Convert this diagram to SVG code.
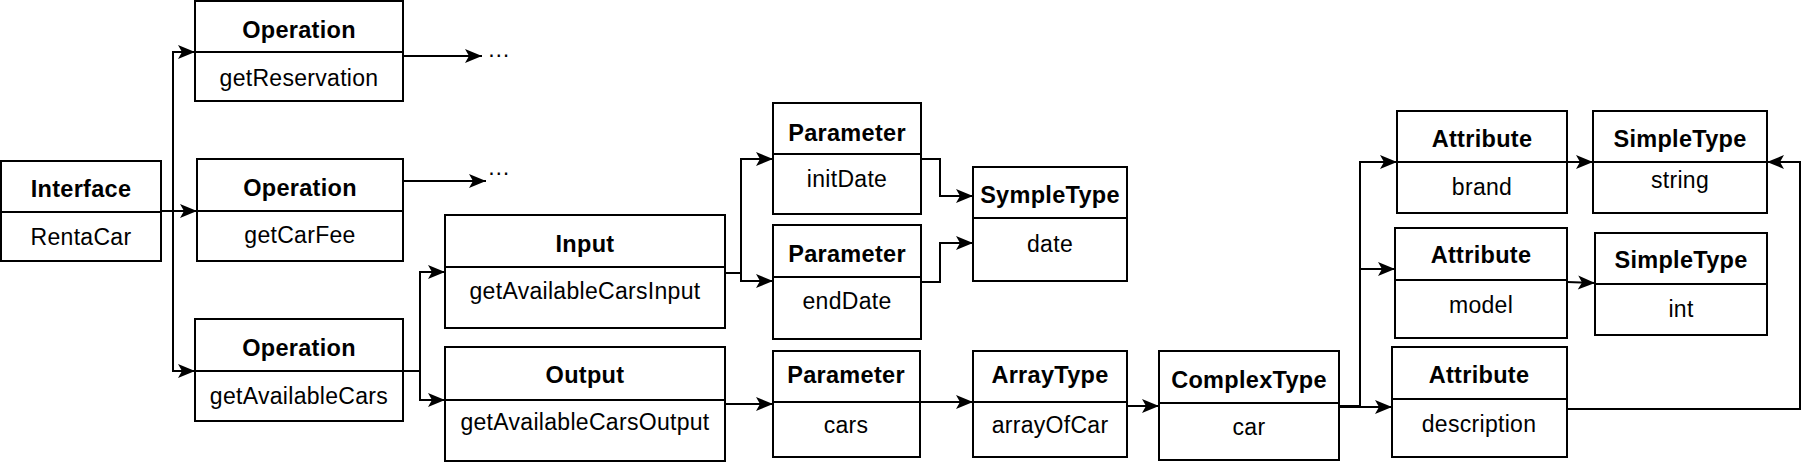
<svg xmlns="http://www.w3.org/2000/svg" width="1818" height="464" viewBox="0 0 1818 464">
<style>
.box{fill:#fff;stroke:#000;stroke-width:2}
.div{stroke:#000;stroke-width:2}
.h{font-family:"Liberation Sans",Arial,sans-serif;font-weight:bold;font-size:23.5px;letter-spacing:0.3px;text-anchor:middle;fill:#000}
.b{font-family:"Liberation Sans",Arial,sans-serif;font-size:23px;letter-spacing:0.3px;text-anchor:middle;fill:#000}
.c{fill:none;stroke:#000;stroke-width:2}
</style>
<defs>
<marker id="ah" markerUnits="userSpaceOnUse" markerWidth="20" markerHeight="16" viewBox="-18 -8 19 16" refX="0" refY="0" orient="auto">
<path d="M0,0 L-17,-7 L-13,0 L-17,7 Z" fill="#000"/>
</marker>
</defs>
<rect width="1818" height="464" fill="#fff"/>
<g id="connectors">
<path class="c" d="M161,211 H173 V52 H195" marker-end="url(#ah)"/>
<path class="c" d="M161,211 H197" marker-end="url(#ah)"/>
<path class="c" d="M161,211 H173 V371 H195" marker-end="url(#ah)"/>
<path class="c" d="M403,56 H482" marker-end="url(#ah)"/>
<path class="c" d="M403,181 H486" marker-end="url(#ah)"/>
<path class="c" d="M403,371 H420 V272 H445" marker-end="url(#ah)"/>
<path class="c" d="M403,371 H420 V400 H445" marker-end="url(#ah)"/>
<path class="c" d="M725,273 H741 V159 H773" marker-end="url(#ah)"/>
<path class="c" d="M725,273 H741 V281 H773" marker-end="url(#ah)"/>
<path class="c" d="M921,159 H940 V196 H973" marker-end="url(#ah)"/>
<path class="c" d="M921,282 H940 V243 H973" marker-end="url(#ah)"/>
<path class="c" d="M725,404 H773" marker-end="url(#ah)"/>
<path class="c" d="M920,402 H973" marker-end="url(#ah)"/>
<path class="c" d="M1127,406 H1159" marker-end="url(#ah)"/>
<path class="c" d="M1339,406 H1360 V162 H1397" marker-end="url(#ah)"/>
<path class="c" d="M1339,406 H1360 V269 H1395" marker-end="url(#ah)"/>
<path class="c" d="M1339,407 H1392" marker-end="url(#ah)"/>
<path class="c" d="M1567,162 H1593" marker-end="url(#ah)"/>
<path class="c" d="M1567,282 L1595,283" marker-end="url(#ah)"/>
<path class="c" d="M1567,409 H1800 V162 H1767" marker-end="url(#ah)"/>
<text class="b" x="499" y="57">…</text>
<text class="b" x="499" y="175">…</text>
</g>
<g id="interface">
<rect class="box" x="1" y="161" width="160" height="100"/>
<line class="div" x1="1" y1="212" x2="161" y2="212"/>
<text class="h" x="81" y="197">Interface</text>
<text class="b" x="81" y="245">RentaCar</text>
</g>
<g id="op-getReservation">
<rect class="box" x="195" y="1" width="208" height="100"/>
<line class="div" x1="195" y1="52" x2="403" y2="52"/>
<text class="h" x="299" y="38">Operation</text>
<text class="b" x="299" y="86">getReservation</text>
</g>
<g id="op-getCarFee">
<rect class="box" x="197" y="159" width="206" height="102"/>
<line class="div" x1="197" y1="211" x2="403" y2="211"/>
<text class="h" x="300" y="196">Operation</text>
<text class="b" x="300" y="243">getCarFee</text>
</g>
<g id="op-getAvailableCars">
<rect class="box" x="195" y="319" width="208" height="102"/>
<line class="div" x1="195" y1="371" x2="403" y2="371"/>
<text class="h" x="299" y="356">Operation</text>
<text class="b" x="299" y="404">getAvailableCars</text>
</g>
<g id="input">
<rect class="box" x="445" y="215" width="280" height="113"/>
<line class="div" x1="445" y1="267" x2="725" y2="267"/>
<text class="h" x="585" y="252">Input</text>
<text class="b" x="585" y="299">getAvailableCarsInput</text>
</g>
<g id="output">
<rect class="box" x="445" y="347" width="280" height="114"/>
<line class="div" x1="445" y1="400" x2="725" y2="400"/>
<text class="h" x="585" y="383">Output</text>
<text class="b" x="585" y="430">getAvailableCarsOutput</text>
</g>
<g id="param-initDate">
<rect class="box" x="773" y="103" width="148" height="111"/>
<line class="div" x1="773" y1="154" x2="921" y2="154"/>
<text class="h" x="847" y="141">Parameter</text>
<text class="b" x="847" y="187">initDate</text>
</g>
<g id="param-endDate">
<rect class="box" x="773" y="225" width="148" height="114"/>
<line class="div" x1="773" y1="277" x2="921" y2="277"/>
<text class="h" x="847" y="262">Parameter</text>
<text class="b" x="847" y="309">endDate</text>
</g>
<g id="sympletype-date">
<rect class="box" x="973" y="167" width="154" height="114"/>
<line class="div" x1="973" y1="218" x2="1127" y2="218"/>
<text class="h" x="1050" y="203">SympleType</text>
<text class="b" x="1050" y="252">date</text>
</g>
<g id="param-cars">
<rect class="box" x="773" y="351" width="147" height="106"/>
<line class="div" x1="773" y1="402" x2="920" y2="402"/>
<text class="h" x="846" y="383">Parameter</text>
<text class="b" x="846" y="433">cars</text>
</g>
<g id="arraytype">
<rect class="box" x="973" y="351" width="154" height="106"/>
<line class="div" x1="973" y1="402" x2="1127" y2="402"/>
<text class="h" x="1050" y="383">ArrayType</text>
<text class="b" x="1050" y="433">arrayOfCar</text>
</g>
<g id="complextype">
<rect class="box" x="1159" y="351" width="180" height="109"/>
<line class="div" x1="1159" y1="403" x2="1339" y2="403"/>
<text class="h" x="1249" y="388">ComplexType</text>
<text class="b" x="1249" y="435">car</text>
</g>
<g id="attr-brand">
<rect class="box" x="1397" y="111" width="170" height="102"/>
<line class="div" x1="1397" y1="162" x2="1567" y2="162"/>
<text class="h" x="1482" y="147">Attribute</text>
<text class="b" x="1482" y="195">brand</text>
</g>
<g id="simpletype-string">
<rect class="box" x="1593" y="111" width="174" height="102"/>
<line class="div" x1="1593" y1="162" x2="1767" y2="162"/>
<text class="h" x="1680" y="147">SimpleType</text>
<text class="b" x="1680" y="188">string</text>
</g>
<g id="attr-model">
<rect class="box" x="1395" y="228" width="172" height="110"/>
<line class="div" x1="1395" y1="280" x2="1567" y2="280"/>
<text class="h" x="1481" y="263">Attribute</text>
<text class="b" x="1481" y="313">model</text>
</g>
<g id="simpletype-int">
<rect class="box" x="1595" y="233" width="172" height="102"/>
<line class="div" x1="1595" y1="284" x2="1767" y2="284"/>
<text class="h" x="1681" y="268">SimpleType</text>
<text class="b" x="1681" y="317">int</text>
</g>
<g id="attr-description">
<rect class="box" x="1392" y="347" width="175" height="110"/>
<line class="div" x1="1392" y1="399" x2="1567" y2="399"/>
<text class="h" x="1479" y="383">Attribute</text>
<text class="b" x="1479" y="432">description</text>
</g>
</svg>
